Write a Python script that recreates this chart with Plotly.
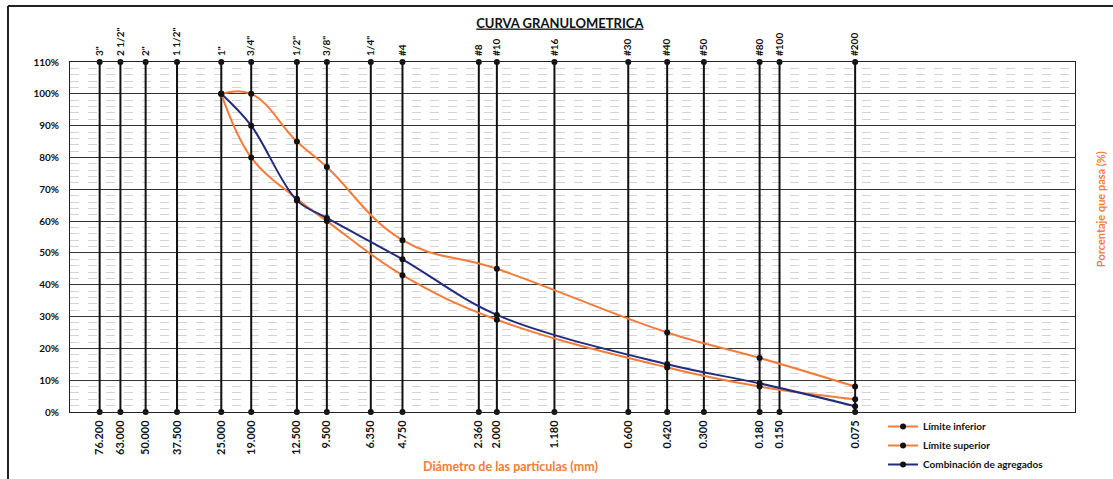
import plotly.graph_objects as go

# ---------------- data ----------------
sieve_names = ['3"', '2 1/2"', '2"', '1 1/2"', '1"', '3/4"', '1/2"', '3/8"', '1/4"', '#4',
               '#8', '#10', '#16', '#30', '#40', '#50', '#80', '#100', '#200']
sieve_sizes = [76.2, 63.0, 50.0, 37.5, 25.0, 19.0, 12.5, 9.5, 6.35, 4.75,
               2.36, 2.0, 1.18, 0.6, 0.42, 0.3, 0.18, 0.15, 0.075]

spec_sizes = [25.0, 19.0, 12.5, 9.5, 4.75, 2.0, 0.42, 0.18, 0.075]
lower_limit = [100, 80, 67, 60, 43, 29, 14, 8, 4]
upper_limit = [100, 100, 85, 77, 54, 45, 25, 17, 8]

blend_sizes = [25.0, 19.0, 12.5, 9.5, 4.75, 2.0, 0.42, 0.18, 0.075]
blend_pass = [100, 90, 66.5, 61, 48, 30.5, 15, 9, 1.8]

series_names = ["Límite inferior", "Límite superior", "Combinación de agregados"]

ORANGE = "#F37C3A"
NAVY = "#222C7C"
FONT = "Lato"

fig = go.Figure()

# vertical sieve lines (0 -> 110 %)
vx, vy = [], []
for s in sieve_sizes:
    vx += [s, s, None]
    vy += [0, 110, None]
fig.add_trace(go.Scatter(x=vx, y=vy, mode="lines+markers", showlegend=False,
                         line=dict(color="#111111", width=2),
                         marker=dict(color="#111111", size=6),
                         hoverinfo="skip", cliponaxis=False))

marker = dict(color="#111111", size=6)
fig.add_trace(go.Scatter(x=spec_sizes, y=lower_limit, name=series_names[0],
                         mode="lines+markers",
                         line=dict(color=ORANGE, width=2, shape="spline", smoothing=1.1),
                         marker=marker, cliponaxis=False))
fig.add_trace(go.Scatter(x=spec_sizes, y=upper_limit, name=series_names[1],
                         mode="lines+markers",
                         line=dict(color=ORANGE, width=2, shape="spline", smoothing=1.2),
                         marker=marker, cliponaxis=False))
fig.add_trace(go.Scatter(x=blend_sizes, y=blend_pass, name=series_names[2],
                         mode="lines+markers",
                         line=dict(color=NAVY, width=2, shape="spline", smoothing=1.0),
                         marker=marker, cliponaxis=False))

# invisible trace to carry the top axis
fig.add_trace(go.Scatter(x=[sieve_sizes[0]], y=[None], xaxis="x2", showlegend=False,
                         hoverinfo="skip", mode="markers"))

tickfont = dict(family=FONT, size=10, color="#111111", weight="bold")
bottomfont = dict(family=FONT, size=11, color="#111111", weight="bold")

fig.update_layout(
    width=1113, height=479,
    margin=dict(l=70, r=38, t=62, b=67, autoexpand=False),
    paper_bgcolor="white", plot_bgcolor="white",
    font=dict(family=FONT, color="#111111"),
    title=dict(text="CURVA GRANULOMETRICA", x=0.503, xanchor="center",
               y=1 - 23 / 479, yanchor="middle", yref="container",
               font=dict(family=FONT, size=13, color="#111111", weight="bold",
                         lineposition="under")),
    xaxis=dict(type="log", range=[2, -2], tickvals=sieve_sizes,
               ticktext=[f"{s:.3f}" for s in sieve_sizes], tickangle=-90,
               tickfont=bottomfont, showgrid=False, zeroline=False, automargin=False,
               ticks="outside", ticklen=3, tickcolor="rgba(0,0,0,0)",
               showline=True, linecolor="#222222", linewidth=1, mirror=True),
    xaxis2=dict(type="log", range=[2, -2], overlaying="x", side="top",
                tickvals=sieve_sizes, ticktext=sieve_names, tickangle=-90,
                tickfont=tickfont, showgrid=False, zeroline=False, automargin=False,
                ticks="outside", ticklen=3, tickcolor="rgba(0,0,0,0)"),
    yaxis=dict(range=[0, 110], dtick=10, ticksuffix="%", tickfont=tickfont,
               showgrid=True, gridcolor="#333333", gridwidth=1.3, zeroline=False,
               automargin=False,
               ticks="outside", ticklen=8, tickcolor="rgba(0,0,0,0)",
               showline=True, linecolor="#222222", linewidth=1, mirror=True,
               minor=dict(dtick=2, showgrid=True, gridcolor="#D4D4D4",
                          griddash="dash", gridwidth=0.8)),
    legend=dict(x=0.809, xanchor="left", y=0.0, yanchor="top",
                font=dict(family=FONT, size=10, color="#111111", weight="bold"),
                bgcolor="rgba(0,0,0,0)", tracegroupgap=0, itemwidth=30),
    showlegend=True,
)

fig.add_annotation(text="Diámetro de las partículas (mm)", xref="paper", yref="paper",
                   x=0.438, y=-0.157, xanchor="center", yanchor="middle", showarrow=False,
                   font=dict(family=FONT, size=12.5, color=ORANGE, weight="bold"))
fig.add_annotation(text="Porcentaje que pasa (%)", xref="paper", yref="paper",
                   x=1.025, y=0.58, xanchor="center", yanchor="middle", showarrow=False,
                   textangle=-90,
                   font=dict(family=FONT, size=11, color=ORANGE, weight="bold"))

# outer sheet borders
fig.add_shape(type="line", xref="paper", yref="paper", x0=-0.0617, x1=-0.0617,
              y0=-0.25, y1=1.16, line=dict(color="#222222", width=2))
fig.add_shape(type="line", xref="paper", yref="paper", x0=-0.0617, x1=1.05,
              y0=1.16, y1=1.16, line=dict(color="#222222", width=2))

fig.write_html("out.html", config={"displayModeBar": False},
               post_script="document.body.style.margin='0px';document.body.style.overflow='hidden';")
